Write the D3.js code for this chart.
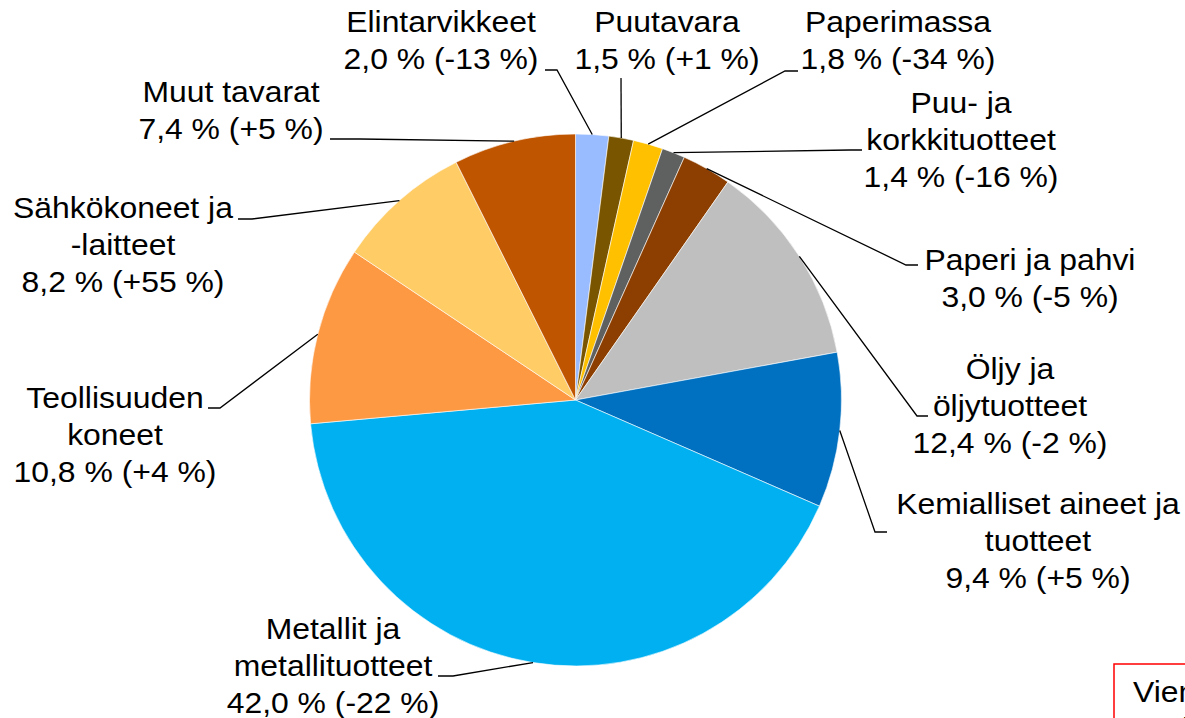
<!DOCTYPE html>
<html>
<head>
<meta charset="utf-8">
<script src="https://cdn.jsdelivr.net/npm/d3@7"></script>
<style>
  html, body { margin: 0; padding: 0; background: #fff; }
  svg { display: block; }
  text { font-family: "Liberation Sans", Arial, sans-serif; fill: #000; }
</style>
</head>
<body>
<script>
// ---- Data ----
const categories = [
  "Elintarvikkeet", "Puutavara", "Paperimassa", "Puu- ja korkkituotteet",
  "Paperi ja pahvi", "Öljy ja öljytuotteet", "Kemialliset aineet ja tuotteet",
  "Metallit ja metallituotteet", "Teollisuuden koneet", "Sähkökoneet ja -laitteet",
  "Muut tavarat"
];
const shares = [2.0, 1.5, 1.8, 1.4, 3.0, 12.4, 9.4, 42.0, 10.8, 8.2, 7.4];
const changes = [-13, 1, -34, -16, -5, -2, 5, -22, 4, 55, 5];
// label text lines for the name part (wrapped as in the reference)
const nameLines = [
  ["Elintarvikkeet"], ["Puutavara"], ["Paperimassa"], ["Puu- ja", "korkkituotteet"],
  ["Paperi ja pahvi"], ["Öljy ja", "öljytuotteet"], ["Kemialliset aineet ja", "tuotteet"],
  ["Metallit ja", "metallituotteet"], ["Teollisuuden", "koneet"], ["Sähkökoneet ja", "-laitteet"],
  ["Muut tavarat"]
];
const colors = ["#99BBFF", "#7A5500", "#FFC000", "#5F6161", "#8C3F00", "#BEBFBE",
                "#0070C0", "#00B0F0", "#FD9843", "#FFCC66", "#C05500"];
const boxText = ["Vienti", "yhteensä"];

// ---- Layout ----
const W = 1185, H = 718;
const cx = 575.5, cy = 400, R = 266;
const fontSize = 29, lineH = 37, stretch = 1.1;
// label placement: center x, first baseline, elbow point, leader end point
const labelLayout = [
  { x: 441, y: 32, elbow: [557, 70], end: [545, 70] },
  { x: 667, y: 32, elbow: null, end: [621, 78] },
  { x: 898, y: 32, elbow: [785, 71], end: [798, 71] },
  { x: 961, y: 113, elbow: [850, 150], end: [862, 150] },
  { x: 1030, y: 270, elbow: [906, 265], end: [918, 265] },
  { x: 1010, y: 379, elbow: [917, 416], end: [928, 416] },
  { x: 1038, y: 514, elbow: [875, 532], end: [887, 532] },
  { x: 333, y: 639, elbow: [453, 676], end: [438, 676] },
  { x: 115, y: 408, elbow: [220, 408], end: [208, 408] },
  { x: 123, y: 218, elbow: [252, 219], end: [238, 219] },
  { x: 231, y: 102, elbow: [360, 139], end: [330, 139] }
];

const fmt = v => v.toFixed(1).replace(".", ",");
const fmtChg = v => (v > 0 ? "+" : "-") + Math.abs(v);

const svg = d3.select("body").append("svg").attr("width", W).attr("height", H);

const data = categories.map((c, i) => ({ name: c, value: shares[i], change: changes[i], i }));

const pie = d3.pie().value(d => d.value).sort(null);
const arcs = pie(data);
const arc = d3.arc().innerRadius(0).outerRadius(R);

const g = svg.append("g").attr("transform", `translate(${cx},${cy})`);
g.selectAll("path").data(arcs).join("path")
  .attr("d", arc)
  .attr("fill", d => colors[d.data.i])
  .attr("stroke", "#ffffff")
  .attr("stroke-width", 0.6);

// leader lines
const leaders = svg.append("g");
arcs.forEach(a => {
  const mid = (a.startAngle + a.endAngle) / 2;
  const p0 = [cx + R * Math.sin(mid), cy - R * Math.cos(mid)];
  const L = labelLayout[a.data.i];
  const pts = [p0];
  if (L.elbow) pts.push(L.elbow);
  pts.push(L.end);
  leaders.append("path")
    .attr("d", d3.line()(pts))
    .attr("fill", "none")
    .attr("stroke", "#000")
    .attr("stroke-width", 1.3);
});

// labels
const labels = svg.append("g");
data.forEach(d => {
  const L = labelLayout[d.i];
  const lines = nameLines[d.i].concat([`${fmt(d.value)} % (${fmtChg(d.change)} %)`]);
  const lg = labels.append("g").attr("transform", `translate(${L.x},${L.y}) scale(${stretch},1)`);
  lines.forEach((t, k) => {
    lg.append("text")
      .attr("x", 0).attr("y", k * lineH)
      .attr("text-anchor", "middle")
      .attr("font-size", fontSize)
      .text(t);
  });
});

// partially visible red box at bottom right
svg.append("rect")
  .attr("x", 1114).attr("y", 664).attr("width", 120).attr("height", 100)
  .attr("fill", "#fff").attr("stroke", "#FF0000").attr("stroke-width", 1.5);
const bg = svg.append("g").attr("transform", `translate(1133,702) scale(${stretch},1)`);
bg.append("text").attr("x", 0).attr("y", 0).attr("font-size", fontSize).text(boxText[0]);
bg.append("text").attr("x", 30).attr("y", lineH).attr("font-size", fontSize).text(boxText[1]);
</script>
</body>
</html>
